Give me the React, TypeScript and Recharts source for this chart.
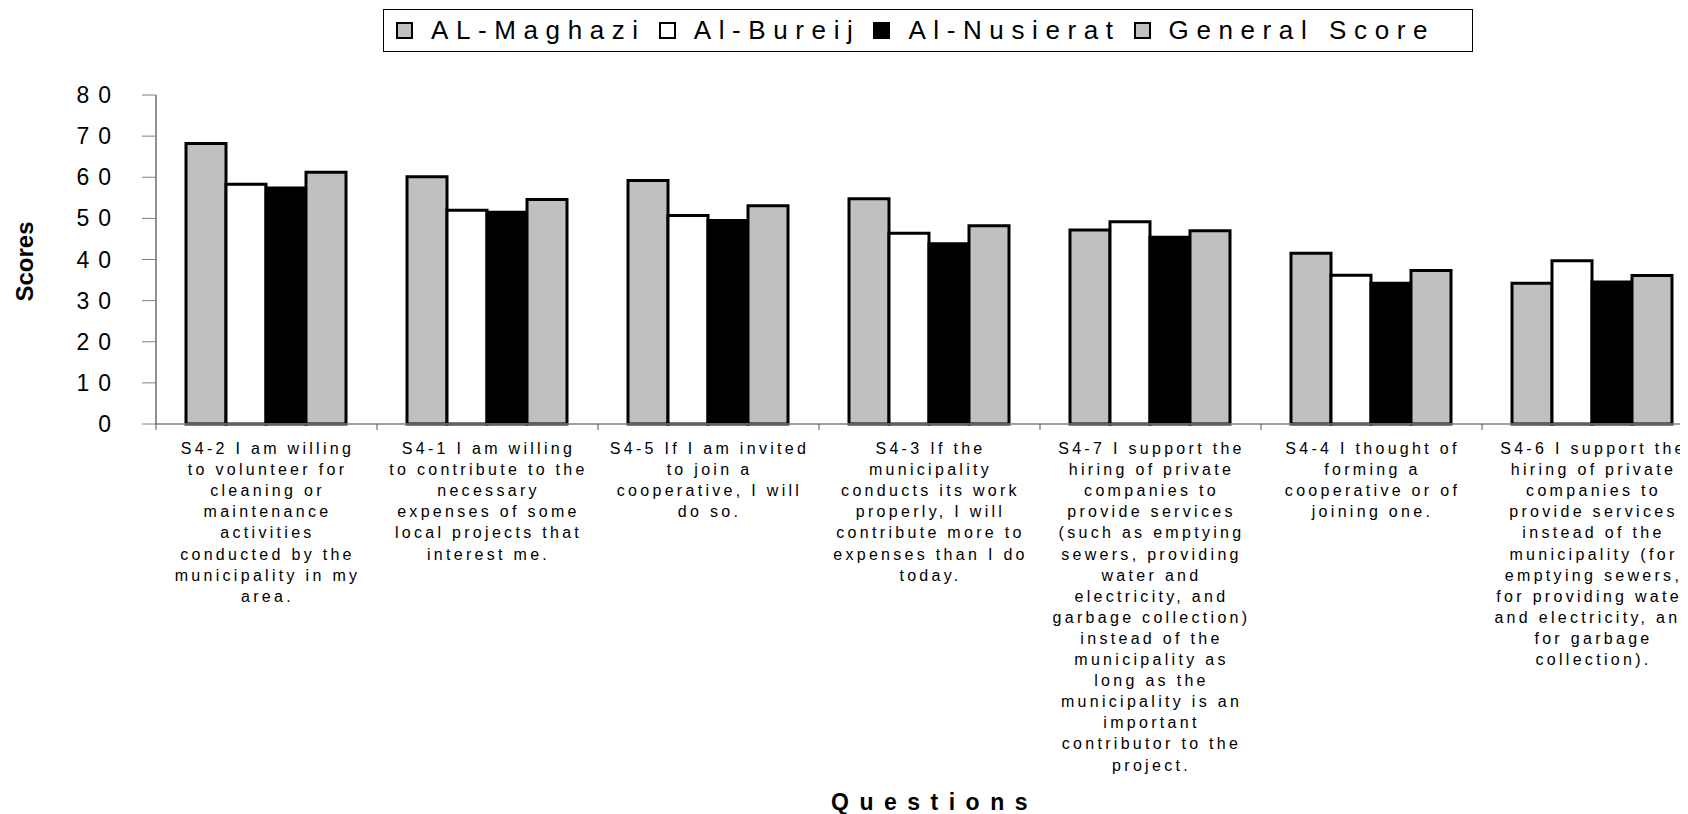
import { BarChart, Bar, XAxis, YAxis, Legend } from 'recharts';

const FONT = '"Liberation Sans", Arial, sans-serif';

const categories = ['S4-2', 'S4-1', 'S4-5', 'S4-3', 'S4-7', 'S4-4', 'S4-6'];

const categoryLabels = [
  'S4-2 I am willing\nto volunteer for\ncleaning or\nmaintenance\nactivities\nconducted by the\nmunicipality in my\narea.',
  'S4-1 I am willing\nto contribute to the\nnecessary\nexpenses of some\nlocal projects that\ninterest me.',
  'S4-5 If I am invited\nto join a\ncooperative, I will\ndo so.',
  'S4-3 If the\nmunicipality\nconducts its work\nproperly, I will\ncontribute more to\nexpenses than I do\ntoday.',
  'S4-7 I support the\nhiring of private\ncompanies to\nprovide services\n(such as emptying\nsewers, providing\nwater and\nelectricity, and\ngarbage collection)\ninstead of the\nmunicipality as\nlong as the\nmunicipality is an\nimportant\ncontributor to the\nproject.',
  'S4-4 I thought of\nforming a\ncooperative or of\njoining one.',
  'S4-6 I support the\nhiring of private\ncompanies to\nprovide services\ninstead of the\nmunicipality (for\nemptying sewers,\nfor providing water\nand electricity, and\nfor garbage\ncollection).',
];

const alMaghazi = [68.2, 60.1, 59.2, 54.8, 47.2, 41.5, 34.2];
const alBureij = [58.3, 52.0, 50.7, 46.4, 49.2, 36.2, 39.7];
const alNusierat = [57.4, 51.5, 49.5, 43.8, 45.4, 34.2, 34.5];
const generalScore = [61.2, 54.6, 53.1, 48.2, 47.0, 37.3, 36.1];

const yTicks = [0, 10, 20, 30, 40, 50, 60, 70, 80];

const series = [
  { key: 'maghazi', name: 'AL-Maghazi', fill: '#c0c0c0' },
  { key: 'bureij', name: 'Al-Bureij', fill: '#ffffff' },
  { key: 'nusierat', name: 'Al-Nusierat', fill: '#000000' },
  { key: 'general', name: 'General Score', fill: '#c0c0c0' },
];

const data = categories.map((code, i) => ({
  code,
  maghazi: alMaghazi[i],
  bureij: alBureij[i],
  nusierat: alNusierat[i],
  general: generalScore[i],
}));

// layout
const CHART_W = 1700;
const CHART_H = 806;
const Y_AXIS_W = 148;
const M = { top: 87, right: 5, bottom: 10, left: 0 };
const PLOT_W = CHART_W - M.left - M.right - Y_AXIS_W;
const BAND = PLOT_W / categories.length;

const CategoryTick = ({ x, y, index }: any) => {
  const lines = categoryLabels[index].split('\n');
  const bx = x - BAND / 2;
  return (
    <g>
      <line x1={bx} y1={y} x2={bx} y2={y + 6} stroke="#555" strokeWidth={1} />
      <text textAnchor="middle" fontFamily={FONT} fontSize={16} fill="#000" style={{ letterSpacing: 3.3 }}>
        {lines.map((l: string, i: number) => (
          <tspan key={i} x={x + 1} y={y + 30 + i * 21.1}>
            {l}
          </tspan>
        ))}
      </text>
    </g>
  );
};

const ScoreTick = ({ x, y, payload }: any) => (
  <text
    x={x - 22}
    y={y}
    dy={8}
    textAnchor="end"
    fontFamily={FONT}
    fontSize={23}
    fill="#000"
    style={{ letterSpacing: 9 }}
  >
    {payload.value}
  </text>
);

const LegendBox = ({ payload }: any) => (
  <div
    style={{
      boxSizing: 'border-box',
      width: 1090,
      height: 43,
      border: '1px solid #000',
      display: 'flex',
      alignItems: 'center',
      paddingLeft: 12,
      fontFamily: FONT,
      fontSize: 26,
      letterSpacing: 7.6,
      color: '#000',
      whiteSpace: 'nowrap',
    }}
  >
    {(payload || []).map((p: any, i: number) => (
      <div key={i} style={{ display: 'flex', alignItems: 'center', marginRight: 13 }}>
        <span
          style={{
            boxSizing: 'border-box',
            width: 17,
            height: 17,
            border: '2px solid #000',
            background: p.color,
            marginRight: 18,
            display: 'inline-block',
          }}
        />
        <span>{p.value}</span>
      </div>
    ))}
  </div>
);

export default function App() {
  return (
    <div style={{ width: 1680, height: CHART_H, overflow: 'hidden', background: '#fff' }}>
      <BarChart width={CHART_W} height={CHART_H} data={data} margin={M} barCategoryGap={30} barGap={0}>
        <XAxis
          dataKey="code"
          height={CHART_H - M.top - M.bottom - 329}
          interval={0}
          tickSize={0}
          tickMargin={0}
          tick={<CategoryTick />}
          axisLine={{ stroke: '#808080', strokeWidth: 1.5 }}
          label={{
            content: ({ viewBox }: any) => (
              <text
                x={viewBox.x + viewBox.width / 2 + 5}
                y={viewBox.y + 386}
                textAnchor="middle"
                fontFamily={FONT}
                fontSize={23}
                fontWeight="bold"
                fill="#000"
                style={{ letterSpacing: 10.5 }}
              >
                Questions
              </text>
            ),
          }}
        />
        <YAxis
          width={Y_AXIS_W}
          domain={[0, 80]}
          ticks={yTicks}
          interval={0}
          tickSize={14}
          tickMargin={0}
          tick={<ScoreTick />}
          tickLine={{ stroke: '#808080' }}
          axisLine={{ stroke: '#222', strokeWidth: 1 }}
          label={{
            content: ({ viewBox }: any) => {
              const cx = 16;
              const cy = viewBox.y + viewBox.height / 2 + 2;
              return (
                <text
                  x={cx}
                  y={cy}
                  transform={`rotate(-90 ${cx} ${cy})`}
                  textAnchor="middle"
                  dominantBaseline="central"
                  fontFamily={FONT}
                  fontSize={24}
                  fontWeight="bold"
                  fill="#000"
                >
                  Scores
                </text>
              );
            },
          }}
        />
        <Legend
          layout="vertical"
          align="center"
          verticalAlign="middle"
          content={<LegendBox />}
          wrapperStyle={{ top: 1, left: 375, width: 1090 }}
        />
        {series.map((s) => (
          <Bar
            key={s.key}
            dataKey={s.key}
            name={s.name}
            fill={s.fill}
            stroke="#000"
            strokeWidth={3}
            isAnimationActive={false}
          />
        ))}
      </BarChart>
    </div>
  );
}
